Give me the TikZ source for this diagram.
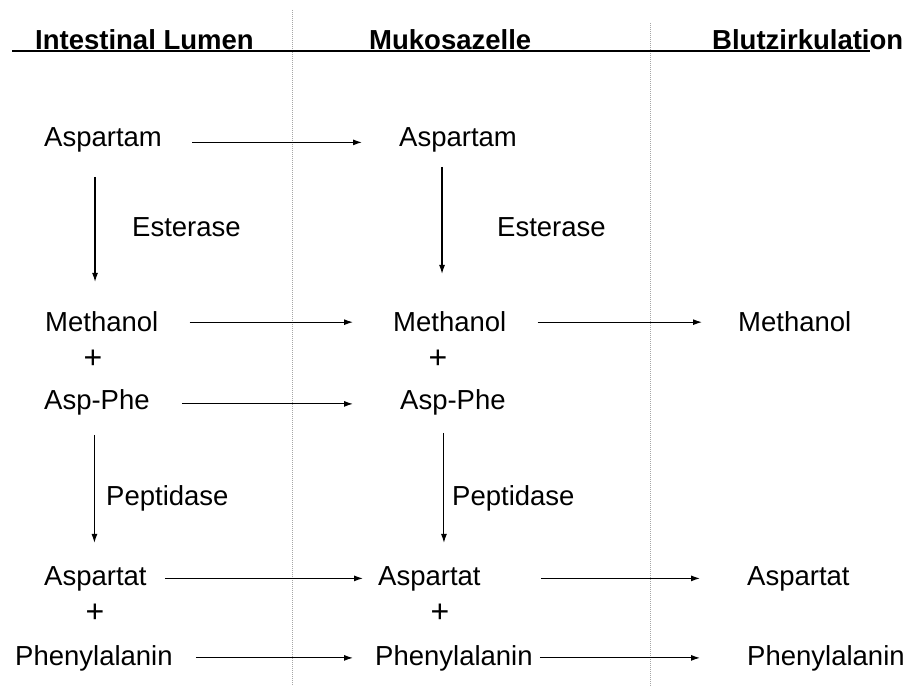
\documentclass[tikz,border=0pt]{standalone}
\usepackage{fontspec}
\setmainfont{Liberation Sans}
\usetikzlibrary{arrows.meta,calc}
\begin{document}
\begin{tikzpicture}[x=1pt,y=1pt,
    every node/.style={inner sep=0pt,anchor=base west,font=\fontsize{27.5}{33}\selectfont},
    head/.style={font=\fontsize{27.5}{33}\selectfont\bfseries},
    plus/.style={anchor=center,font=\fontsize{32}{38}\selectfont},
    flow/.style={-{Latex[length=9pt,width=6pt]},line width=1.1pt},
    border/.style={gray!70,line width=0.7pt,dash pattern=on 1pt off 1pt}]
    \useasboundingbox (0,0) rectangle (904,686);
    \draw[border] (292,676) -- (292,0);
    \draw[border] (650,663) -- (650,0);
    \node[head] (lumen) at (35,636) {Intestinal Lumen};
    \node[head] (muko)  at (369,636) {Mukosazelle};
    \node[head] (blut)  at (712,636) {Blutzirkulation};
    \draw[line width=1.3pt] (12,635) -- (870,635);

    \node (asp1)  at (44,539)  {Aspartam};
    \node (est1)  at (132,449) {Esterase};
    \node (meth1) at (45,354)  {Methanol};
    \node[plus] (plus1) at (93,327) {+};
    \node (ap1)   at (44,277)  {Asp-Phe};
    \node (pep1)  at (106,181) {Peptidase};
    \node (aspt1) at (44,101)  {Aspartat};
    \node[plus] (plust1) at (95,73) {+};
    \node (phe1)  at (15,21)   {Phenylalanin};

    \node (asp2)  at (399,539) {Aspartam};
    \node (est2)  at (497,449) {Esterase};
    \node (meth2) at (393,354) {Methanol};
    \node[plus] (plus2) at (438,327) {+};
    \node (ap2)   at (400,277) {Asp-Phe};
    \node (pep2)  at (452,181) {Peptidase};
    \node (aspt2) at (378,101) {Aspartat};
    \node[plus] (plust2) at (440,73) {+};
    \node (phe2)  at (375,21)  {Phenylalanin};

    \node (meth3) at (738,354) {Methanol};
    \node (aspt3) at (747,101) {Aspartat};
    \node (phe3)  at (747,21)  {Phenylalanin};

    \draw[flow] ([xshift=30pt,yshift=-2pt]asp1.east) -- ([xshift=-37pt,yshift=-2pt]asp2.west);
    \draw[flow] ([xshift=31pt]meth1.east) -- ([xshift=-40pt]meth2.west);
    \draw[flow] ([xshift=31pt]meth2.east) -- ([xshift=-36pt]meth3.west);
    \draw[flow] ([xshift=32pt,yshift=-2pt]ap1.east) -- ([xshift=-47pt,yshift=-2pt]ap2.west);
    \draw[flow] ([xshift=18pt]aspt1.east) -- ([xshift=-15pt]aspt2.west);
    \draw[flow] ([xshift=60pt]aspt2.east) -- ([xshift=-47pt]aspt3.west);
    \draw[flow] ([xshift=23pt]phe1.east) -- ([xshift=-22pt]phe2.west);
    \draw[flow] ([xshift=7pt]phe2.east) -- ([xshift=-47pt]phe3.west);

    \draw[flow] ($(asp1.south)+(-8,-24)$) -- ($(asp1.south |- meth1.north)+(-8,30)$);
    \draw[flow] ($(ap1.south)+(-2.5,-20)$) -- ($(ap1.south |- aspt1.north)+(-2.5,23)$);
    \draw[flow] ($(asp2.south)+(-16,-14)$) -- ($(asp2.south |- meth2.north)+(-16,38)$);
    \draw[flow] ($(ap2.south)+(-9,-18)$) -- ($(ap2.south |- aspt2.north)+(-9,23)$);
\end{tikzpicture}
\end{document}
